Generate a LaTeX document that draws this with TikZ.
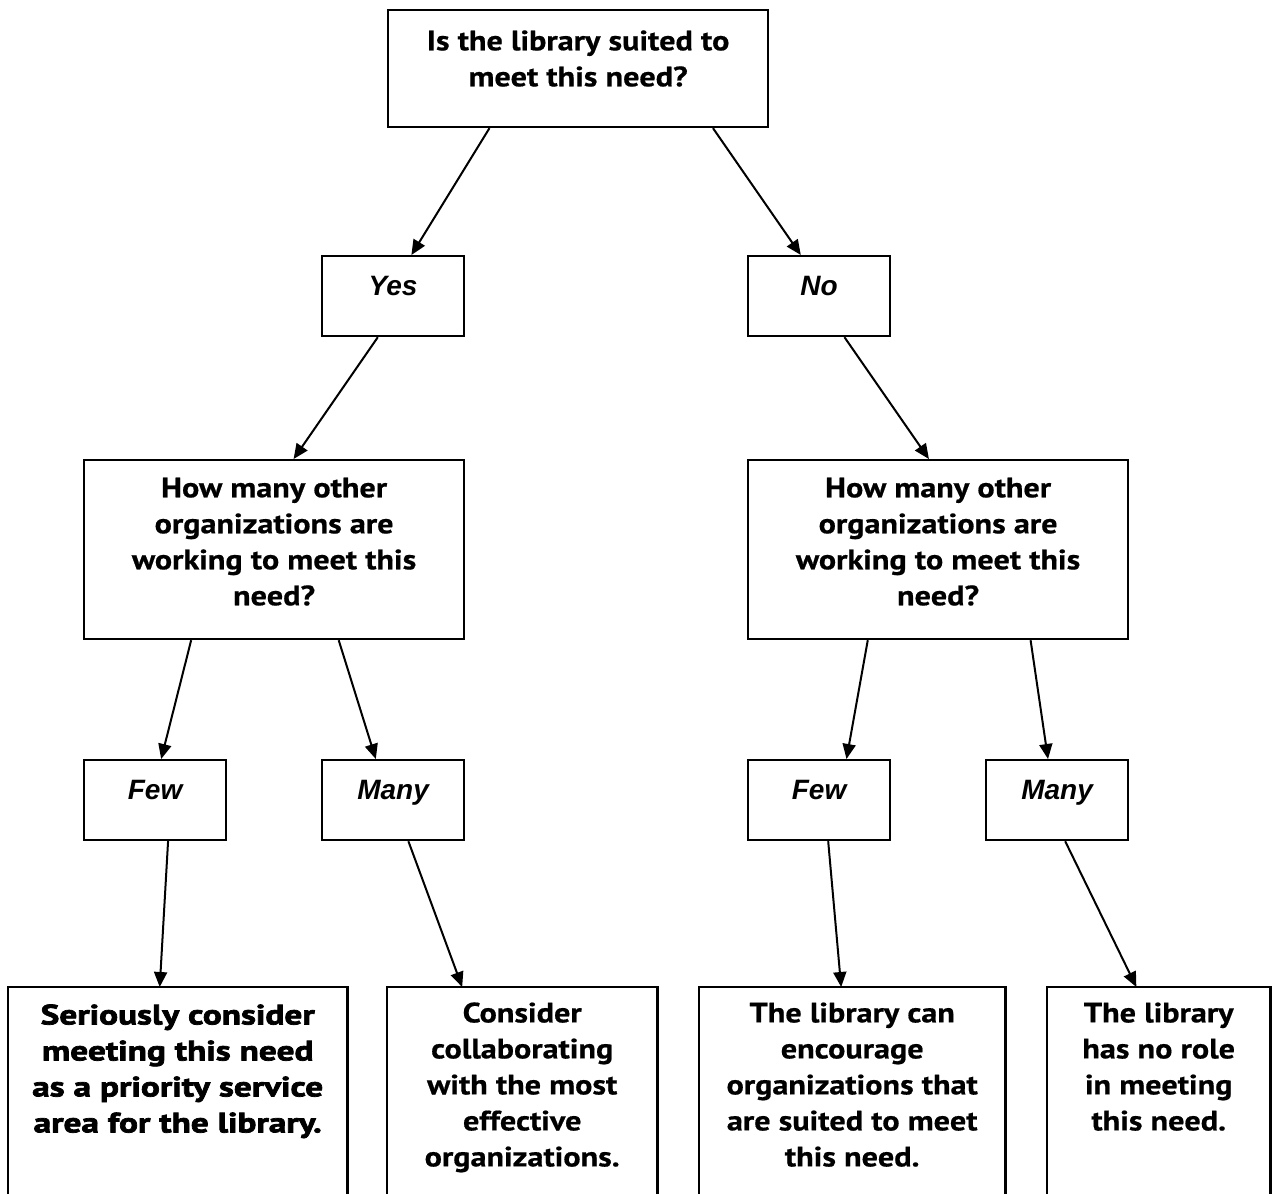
\documentclass[tikz,border=0pt]{standalone}
\usepackage{fontspec}
\setmainfont{PT Sans}[BoldFeatures={FakeStretch=1.15,FakeBold=0.6}]
\newfontfamily\ylabel{Liberation Sans}
\newfontface\heavyfont{PT Sans Bold}[FakeBold=2.6,FakeStretch=1.26]
\usetikzlibrary{calc,arrows.meta}
\newcommand{\bxt}[4]{\begin{minipage}[t][#2pt][t]{#1pt}\centering\vspace*{#3pt}#4\end{minipage}}
\tikzset{
  box/.style={draw, line width=2.2pt, inner sep=0pt, anchor=north west},
  openbox/.style={draw=none, inner sep=0pt, anchor=north west},
  arr/.style={line width=2pt, -{Triangle[length=15pt,width=13pt]}},
  main/.style={font=\fontsize{28}{36}\selectfont\bfseries},
  ans/.style={font=\fontsize{28}{36}\selectfont\ylabel\bfseries\itshape}
}
\begin{document}
\begin{tikzpicture}[x=1pt,y=-1pt]
\useasboundingbox (0,0) rectangle (1277,1194);
% top
\node[box,main] (q1) at (387,9) {\bxt{380}{117}{15}{\strut Is the library suited to\\ meet this need?}};
% yes / no
\node[box,ans] (yes) at (321,255) {\bxt{142}{80}{14}{\strut Yes}};
\node[box,ans] (no) at (747,255) {\bxt{142}{80}{14}{\strut No}};
% middle questions
\node[box,main] (q2) at (83,459) {\bxt{380}{179}{12}{\strut How many other\\ organizations are\\ working to meet this\\ need?}};
\node[box,main] (q3) at (747,459) {\bxt{380}{179}{12}{\strut How many other\\ organizations are\\ working to meet this\\ need?}};
% few / many
\node[box,ans] (few1) at (83,759) {\bxt{142}{80}{14}{\strut Few}};
\node[box,ans] (many1) at (321,759) {\bxt{142}{80}{14}{\strut Many}};
\node[box,ans] (few2) at (747,759) {\bxt{142}{80}{14}{\strut Few}};
\node[box,ans] (many2) at (985,759) {\bxt{142}{80}{14}{\strut Many}};
% bottom outcomes (open at the bottom)
\node[openbox,main] (r1) at (8,987) {\bxt{339}{210}{12}{\heavyfont\strut Seriously consider\\ meeting this need\\ as a priority service\\ area for the library.}};
\node[openbox,main] (r2) at (387,987) {\bxt{270}{210}{10}{\strut Consider\\ collaborating\\ with the most\\ effective\\ organizations.}};
\node[openbox,main] (r3) at (699,987) {\bxt{306}{210}{10}{\strut The library can\\ encourage\\ organizations that\\ are suited to meet\\ this need.}};
\node[openbox,main] (r4) at (1047,987) {\bxt{223}{210}{10}{\strut The library\\ has no role\\ in meeting\\ this need.}};
\foreach \r in {r1,r2,r3,r4}{
  \draw[line width=2.2pt] (\r.south west) -- (\r.north west) -- (\r.north east) -- (\r.south east);
}
% arrows
\draw[arr] ($(q1.south west)!0.268!(q1.south east)$) -- ($(yes.north west)!0.627!(yes.north east)$);
\draw[arr] ($(q1.south west)!0.853!(q1.south east)$) -- ($(no.north west)!0.373!(no.north east)$);
\draw[arr] ($(yes.south west)!0.394!(yes.south east)$) -- ($(q2.north west)!0.551!(q2.north east)$);
\draw[arr] ($(no.south west)!0.676!(no.south east)$) -- ($(q3.north west)!0.476!(q3.north east)$);
\draw[arr] ($(q2.south west)!0.283!(q2.south east)$) -- ($(few1.north west)!0.542!(few1.north east)$);
\draw[arr] ($(q2.south west)!0.669!(q2.south east)$) -- ($(many1.north west)!0.38!(many1.north east)$);
\draw[arr] ($(q3.south west)!0.316!(q3.south east)$) -- ($(few2.north west)!0.69!(few2.north east)$);
\draw[arr] ($(q3.south west)!0.742!(q3.south east)$) -- ($(many2.north west)!0.437!(many2.north east)$);
\draw[arr] ($(few1.south west)!0.59!(few1.south east)$) -- ($(r1.north west)!0.447!(r1.north east)$);
\draw[arr] ($(many1.south west)!0.606!(many1.south east)$) -- ($(r2.north west)!0.278!(r2.north east)$);
\draw[arr] ($(few2.south west)!0.563!(few2.south east)$) -- ($(r3.north west)!0.464!(r3.north east)$);
\draw[arr] ($(many2.south west)!0.556!(many2.south east)$) -- ($(r4.north west)!0.40!(r4.north east)$);
\end{tikzpicture}
\end{document}
